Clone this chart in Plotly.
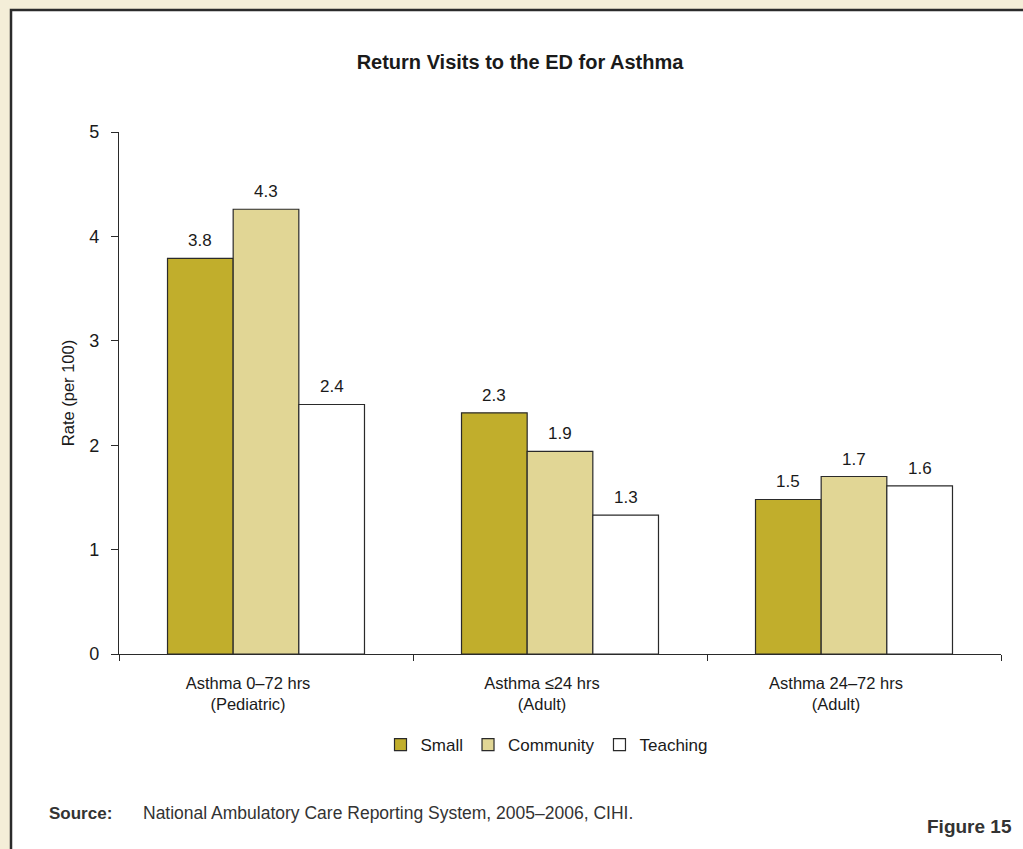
import plotly.graph_objects as go

categories = ["Asthma 0\u201372 hrs<br>(Pediatric)", "Asthma \u226424 hrs<br>(Adult)", "Asthma 24\u201372 hrs<br>(Adult)"]
series_names = ["Small", "Community", "Teaching"]
small = [3.79, 2.31, 1.48]
community = [4.26, 1.94, 1.70]
teaching = [2.39, 1.33, 1.61]
colors = ["#C1AE2C", "#E1D695", "#FFFFFF"]

FONT = "Liberation Sans, Arial, sans-serif"
TXT = "#1a1a1a"

# plot area in px: x 119..1001, y 132..654
L, R, T, B = 119, 1001, 132, 654
W, H = R - L, B - T
BARGAP = 0.33
bar_w = W / len(categories) * (1 - BARGAP) / len(series_names)

def px(x):
    return (x - L) / W
def py(y):
    return (B - y) / H

fig = go.Figure()
annotations = []
for i, (name, vals, col) in enumerate(zip(series_names, [small, community, teaching], colors)):
    fig.add_trace(go.Bar(
        name=name, x=categories, y=vals,
        marker=dict(color=col, line=dict(color="#2a2a2a", width=1.2)),
    ))
    for c, v in zip(categories, vals):
        annotations.append(dict(text=f"{v:.1f}", x=c, y=v, xref="x", yref="y", showarrow=False,
                                xanchor="center", yanchor="bottom", xshift=(i - 1) * bar_w, yshift=6,
                                font=dict(family=FONT, size=17, color=TXT)))

annotations += [
    dict(text="<b>Source:</b>", xref="paper", yref="paper", x=px(47), y=py(813), xanchor="left", yanchor="middle",
         showarrow=False, font=dict(family=FONT, size=17, color="#333")),
    dict(text="National Ambulatory Care Reporting System, 2005\u20132006, CIHI.", xref="paper", yref="paper",
         x=px(141), y=py(813), xanchor="left", yanchor="middle", showarrow=False,
         font=dict(family=FONT, size=17.5, color="#333")),
    dict(text="<b>Figure 15</b>", xref="paper", yref="paper", x=px(1014), y=py(826), xanchor="right",
         yanchor="middle", showarrow=False, font=dict(family=FONT, size=19, color="#333")),
]

fig.update_layout(
    width=1023, height=849,
    margin=dict(l=L, r=1023 - R, t=T, b=849 - B, autoexpand=False),
    paper_bgcolor="#F4EED8", plot_bgcolor="rgba(0,0,0,0)",
    barmode="group", bargap=BARGAP, bargroupgap=0,
    showlegend=True,
    legend=dict(orientation="h", x=px(547), xanchor="center", y=py(745), yanchor="middle",
                font=dict(family=FONT, size=17, color=TXT), bgcolor="rgba(0,0,0,0)",
                itemwidth=30, traceorder="normal"),
    title=dict(text="<b>Return Visits to the ED for Asthma</b>", x=px(520), xref="paper", xanchor="center",
               y=1 - 62 / 849, yanchor="middle",
               font=dict(family=FONT, size=20, color=TXT)),
    xaxis=dict(showline=True, linecolor="#2a2a2a", linewidth=1.2, ticks="outside", tickson="boundaries",
               ticklen=6, tickcolor="#2a2a2a", showgrid=False, ticklabelstandoff=14, ticklabelshift=-18,
               tickfont=dict(family=FONT, size=16.5, color=TXT)),
    yaxis=dict(range=[0, 5], tickvals=[0, 1, 2, 3, 4, 5], showline=True, linecolor="#2a2a2a", linewidth=1.2,
               ticks="outside", ticklen=7, tickcolor="#2a2a2a", showgrid=False, zeroline=False,
               ticklabelstandoff=8,
               tickfont=dict(family=FONT, size=18, color=TXT),
               title=dict(text="Rate (per 100)", font=dict(family=FONT, size=16.5, color=TXT), standoff=10)),
    shapes=[dict(type="rect", xref="paper", yref="paper", layer="below",
                 x0=px(11), x1=px(1040), y0=py(870), y1=py(10),
                 fillcolor="#FFFFFF", line=dict(color="#2b2b2b", width=2.5))],
    annotations=annotations,
)

fig.write_html("out.html", config={"displayModeBar": False},
               post_script="document.body.style.margin='0';document.body.style.overflow='hidden';")
